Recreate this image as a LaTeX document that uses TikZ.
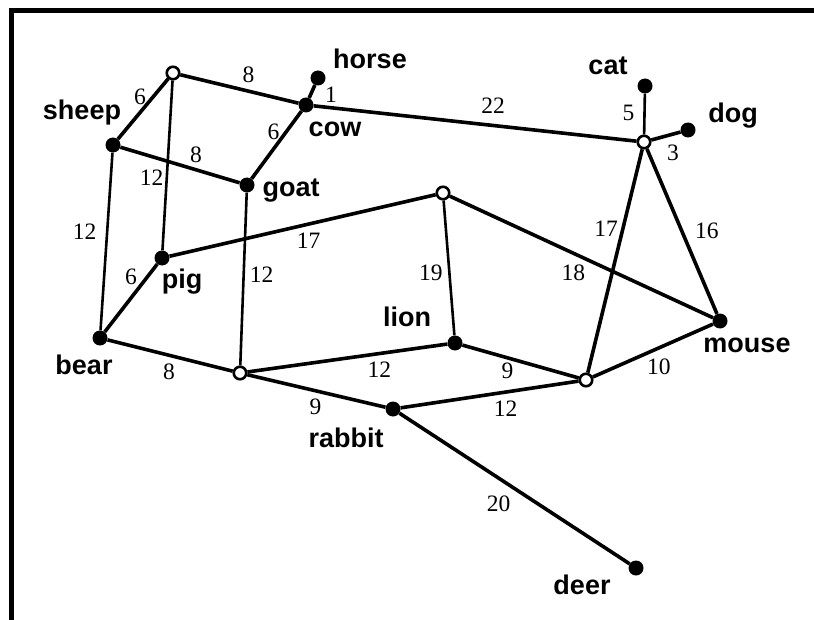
\documentclass[tikz,border=0pt]{standalone}
\usepackage{fontspec}
\setmainfont{Liberation Serif}
\setsansfont{Liberation Sans}
\usetikzlibrary{positioning,calc}

\tikzset{
  animal/.style={circle, fill=black, inner sep=0pt, minimum size=15bp},
  junction/.style={circle, draw=black, fill=white, line width=2.6bp,
                   inner sep=0pt, minimum size=12.5bp},
  tag/.style={font=\sffamily\bfseries\fontsize{27bp}{30bp}\selectfont,
              inner sep=0pt, anchor=base},
  wt/.style={font=\fontsize{23.5bp}{25bp}\selectfont, inner sep=0pt, midway},
  road/.style={line width=3.6bp},
  lane/.style={line width=2.6bp},
}

\begin{document}
\begin{tikzpicture}[x=1bp, y=-1bp]
    \useasboundingbox (0,0) rectangle (814,620);
    \draw[line width=5bp] (11.5,640) |- (814,10.5);

    % vertices
    \node[junction] (j1) at (173,73) {};
    \node[junction] (j2) at (240,373) {};
    \node[junction] (j3) at (443,193) {};
    \node[junction] (j4) at (644,142) {};
    \node[junction] (j5) at (586,380) {};
    \node[animal] (horse)  at (318,78) {};
    \node[animal] (cow)    at (306,105) {};
    \node[animal] (sheep)  at (113,145) {};
    \node[animal] (goat)   at (247,185) {};
    \node[animal] (pig)    at (162,258) {};
    \node[animal] (bear)   at (100,338) {};
    \node[animal] (rabbit) at (393,409) {};
    \node[animal] (lion)   at (455,343) {};
    \node[animal] (cat)    at (645,86) {};
    \node[animal] (dog)    at (688,130) {};
    \node[animal] (mouse)  at (720,321) {};
    \node[animal] (deer)   at (636,568) {};

    % names
    \node[tag] (horse-t)  at ([shift={(52,-9)}]horse) {horse};
    \node[tag] (cow-t)    at ([shift={(29,32)}]cow) {cow};
    \node[tag] (sheep-t)  at ([shift={(-31,-25)}]sheep) {sheep};
    \node[tag] (goat-t)   at ([shift={(44,12)}]goat) {goat};
    \node[tag] (pig-t)    at ([shift={(20,30)}]pig) {pig};
    \node[tag] (bear-t)   at ([shift={(-16,36)}]bear) {bear};
    \node[tag] (rabbit-t) at ([shift={(-47,38)}]rabbit) {rabbit};
    \node[tag] (lion-t)   at ([shift={(-48,-17)}]lion) {lion};
    \node[tag] (cat-t)    at ([shift={(-37,-11)}]cat) {cat};
    \node[tag] (dog-t)    at ([shift={(45,-7)}]dog) {dog};
    \node[tag] (mouse-t)  at ([shift={(27,31)}]mouse) {mouse};
    \node[tag] (deer-t)   at ([shift={(-54,26)}]deer) {deer};

    % edges
    \path[road]
      (j1) edge node[wt, shift={(-3,-12)}] {6} (sheep)
      (j1) edge node[wt, shift={(9,-14)}] {8} (cow)
      (horse) edge node[wt, shift={(19,3)}] {1} (cow)
      (cow) edge node[wt, shift={(18,-18)}] {22} (j4)
      (cow) edge node[wt, shift={(-3,-13)}] {6} (goat)
      (sheep) edge node[wt, shift={(16,-10)}] {8} (goat)
      (pig) edge node[wt, shift={(6,15)}] {17} (j3)
      (pig) edge node[wt, shift={(0,-21)}] {6} (bear)
      (bear) edge node[wt, shift={(-1,16)}] {8} (j2)
      (j2) edge node[wt, shift={(32,12)}] {12} (lion)
      (j2) edge node[wt, shift={(-1,16)}] {9} (rabbit)
      (lion) edge node[wt, shift={(-13,9)}] {9} (j5)
      (rabbit) edge node[wt, shift={(16,14)}] {12} (j5)
      (rabbit) edge node[wt, shift={(-16,15)}] {20} (deer)
      (j3) edge node[wt, shift={(-8,16)}] {18} (mouse)
      (j4) edge node[wt, shift={(7,17)}] {3} (dog)
      (j4) edge node[wt, shift={(-9,-32)}] {17} (j5)
      (j4) edge node[wt, shift={(25,-1)}] {16} (mouse)
      (j5) edge node[wt, shift={(6,16)}] {10} (mouse);
    \path[lane]
      (j1) edge node[wt, shift={(-16,12)}] {12} (pig)
      (sheep) edge node[wt, shift={(-22,-10)}] {12} (bear)
      (goat) edge node[wt, shift={(18,-4)}] {12} (j2)
      (lion) edge node[wt, shift={(-18,5)}] {19} (j3)
      (j4) edge node[wt, shift={(-16,-1)}] {5} (cat);
  \end{tikzpicture}
\end{document}
